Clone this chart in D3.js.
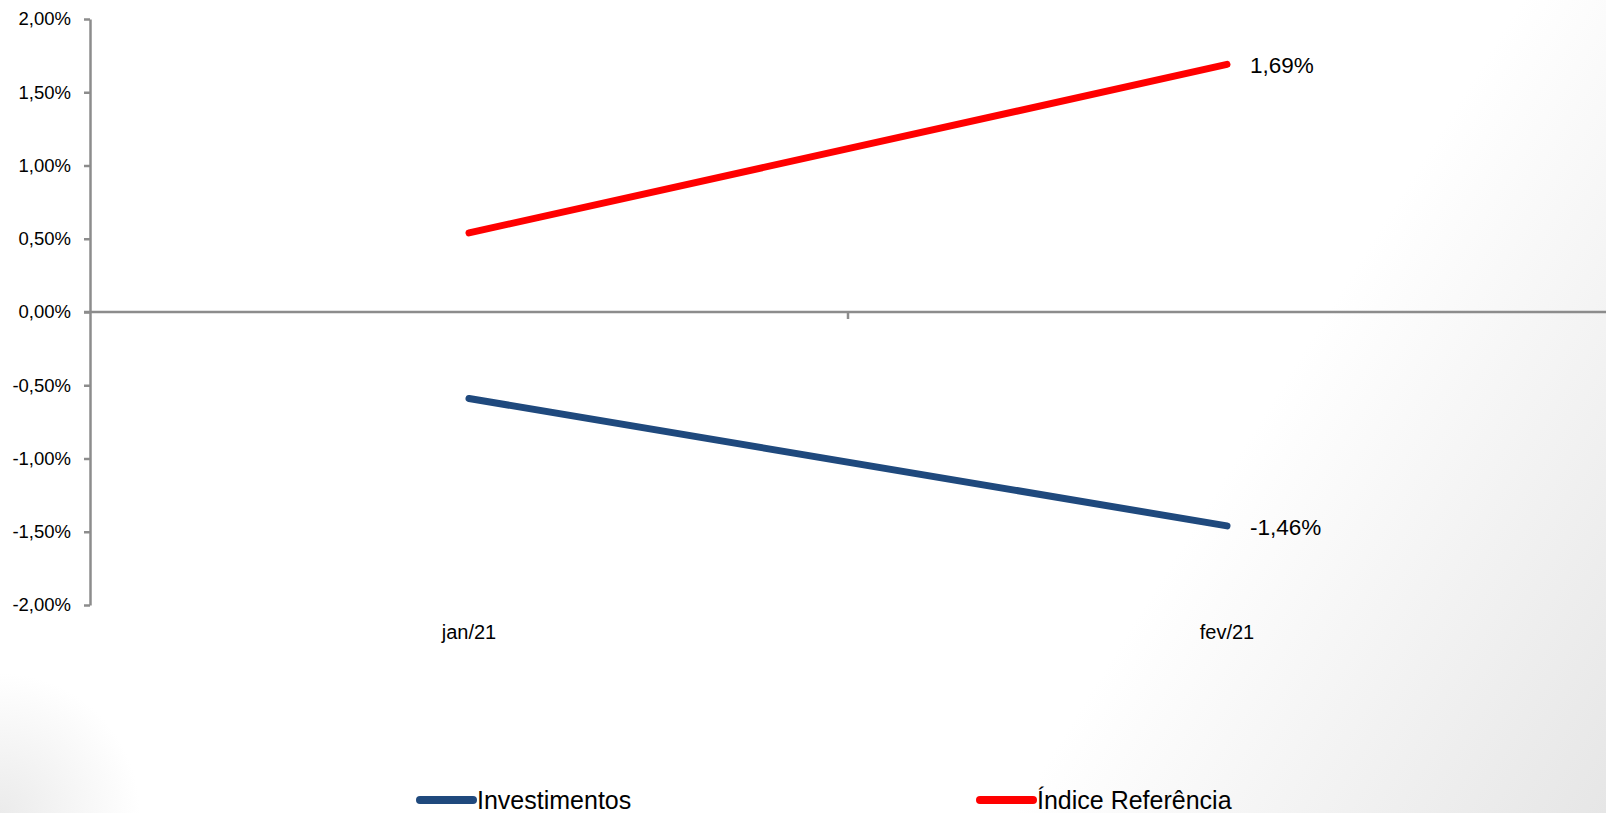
<!DOCTYPE html>
<html>
<head>
<meta charset="utf-8">
<script src="https://cdn.jsdelivr.net/npm/d3@7"></script>
<style>
  html, body { margin: 0; padding: 0; }
  body {
    width: 1606px; height: 813px; overflow: hidden;
    background:
      radial-gradient(circle at 0% 100%, rgba(230,230,230,0.8) 0px, rgba(255,255,255,0) 140px),
      linear-gradient(122deg, #ffffff 72%, #e6e6e6 100%);
  }
  svg { display: block; font-family: "Liberation Sans", Arial, sans-serif; }
</style>
</head>
<body>
<div id="chart"></div>
<script>
// data
const months = ['jan/21', 'fev/21'];
const investimentos = [-0.0059, -0.0146];
const indiceReferencia = [0.0054, 0.0169];
const yTicks = [-0.02, -0.015, -0.01, -0.005, 0, 0.005, 0.01, 0.015, 0.02];

const series = [
  {name: 'Investimentos', values: investimentos, color: '#1f497d'},
  {name: 'Índice Referência', values: indiceReferencia, color: '#ff0000'}
];

const config = {
  width: 1606,
  height: 813,
  margin: {top: 19, right: 0, bottom: 208, left: 90},
  axisColor: '#8c8c8c',
  lineWidth: 7
};

const innerBottom = config.height - config.margin.bottom;

const svg = d3.select('#chart').append('svg')
    .attr('width', config.width)
    .attr('height', config.height);

const xScale = d3.scaleBand()
    .domain(months)
    .range([config.margin.left, config.width - config.margin.right])
    .padding(0);

const yScale = d3.scaleLinear()
    .domain([-0.02, 0.02])
    .range([innerBottom, config.margin.top]);

const fmt = v => (v * 100).toFixed(2).replace('.', ',') + '%';
const xMid = m => xScale(m) + xScale.bandwidth() / 2;

// y axis
const yAxis = svg.append('g')
    .attr('transform', `translate(${config.margin.left},0)`)
    .call(d3.axisLeft(yScale).tickValues(yTicks).tickSize(6).tickSizeOuter(0).tickPadding(13).tickFormat(fmt));
yAxis.select('.domain').attr('stroke', config.axisColor).attr('stroke-width', 2.5);
yAxis.selectAll('.tick line').attr('stroke', config.axisColor).attr('stroke-width', 2.5);
yAxis.selectAll('.tick text').attr('font-size', 18.5).attr('fill', '#000');

// category axis on the zero line, ticks between categories
const y0 = yScale(0);
const boundaries = months.map(m => xScale(m)).concat([xScale.range()[1]]);
svg.append('line')
    .attr('x1', config.margin.left - 6)
    .attr('x2', xScale.range()[1])
    .attr('y1', y0).attr('y2', y0)
    .attr('stroke', config.axisColor)
    .attr('stroke-width', 2.5);
svg.selectAll('.cat-tick')
  .data(boundaries.slice(1, -1))
  .join('line')
    .attr('class', 'cat-tick')
    .attr('x1', d => d).attr('x2', d => d)
    .attr('y1', y0).attr('y2', y0 + 7)
    .attr('stroke', config.axisColor)
    .attr('stroke-width', 2.5);

// category labels at the bottom of the plot
svg.selectAll('.cat-label')
  .data(months)
  .join('text')
    .attr('class', 'cat-label')
    .attr('x', d => xMid(d))
    .attr('y', innerBottom + 27)
    .attr('dy', '0.35em')
    .attr('text-anchor', 'middle')
    .attr('font-size', 20)
    .attr('fill', '#000')
    .text(d => d);

// lines
const line = d3.line()
    .x((d, i) => xMid(months[i]))
    .y(d => yScale(d));

svg.selectAll('.series')
  .data(series)
  .join('path')
    .attr('class', 'series')
    .attr('d', d => line(d.values))
    .attr('fill', 'none')
    .attr('stroke', d => d.color)
    .attr('stroke-width', config.lineWidth)
    .attr('stroke-linecap', 'round')
    .attr('stroke-linejoin', 'round');

// value labels at the last point
const last = months.length - 1;
svg.selectAll('.val-label')
  .data(series)
  .join('text')
    .attr('class', 'val-label')
    .attr('x', xMid(months[last]) + 23)
    .attr('y', d => yScale(d.values[last]) + 1)
    .attr('dy', '0.35em')
    .attr('font-size', 22.5)
    .attr('fill', '#000')
    .text(d => fmt(d.values[last]));

// legend
const legendX = [420, 980];
const legendY = 800;
const legendG = svg.selectAll('.legend')
  .data(series)
  .join('g')
    .attr('class', 'legend')
    .attr('transform', (d, i) => `translate(${legendX[i]},${legendY})`);
legendG.append('line')
    .attr('x1', 0).attr('x2', 53)
    .attr('y1', 0).attr('y2', 0)
    .attr('stroke', d => d.color)
    .attr('stroke-width', 8)
    .attr('stroke-linecap', 'round');
legendG.append('text')
    .attr('x', 57)
    .attr('dy', '0.35em')
    .attr('font-size', 25)
    .attr('fill', '#000')
    .text(d => d.name);
</script>
</body>
</html>
